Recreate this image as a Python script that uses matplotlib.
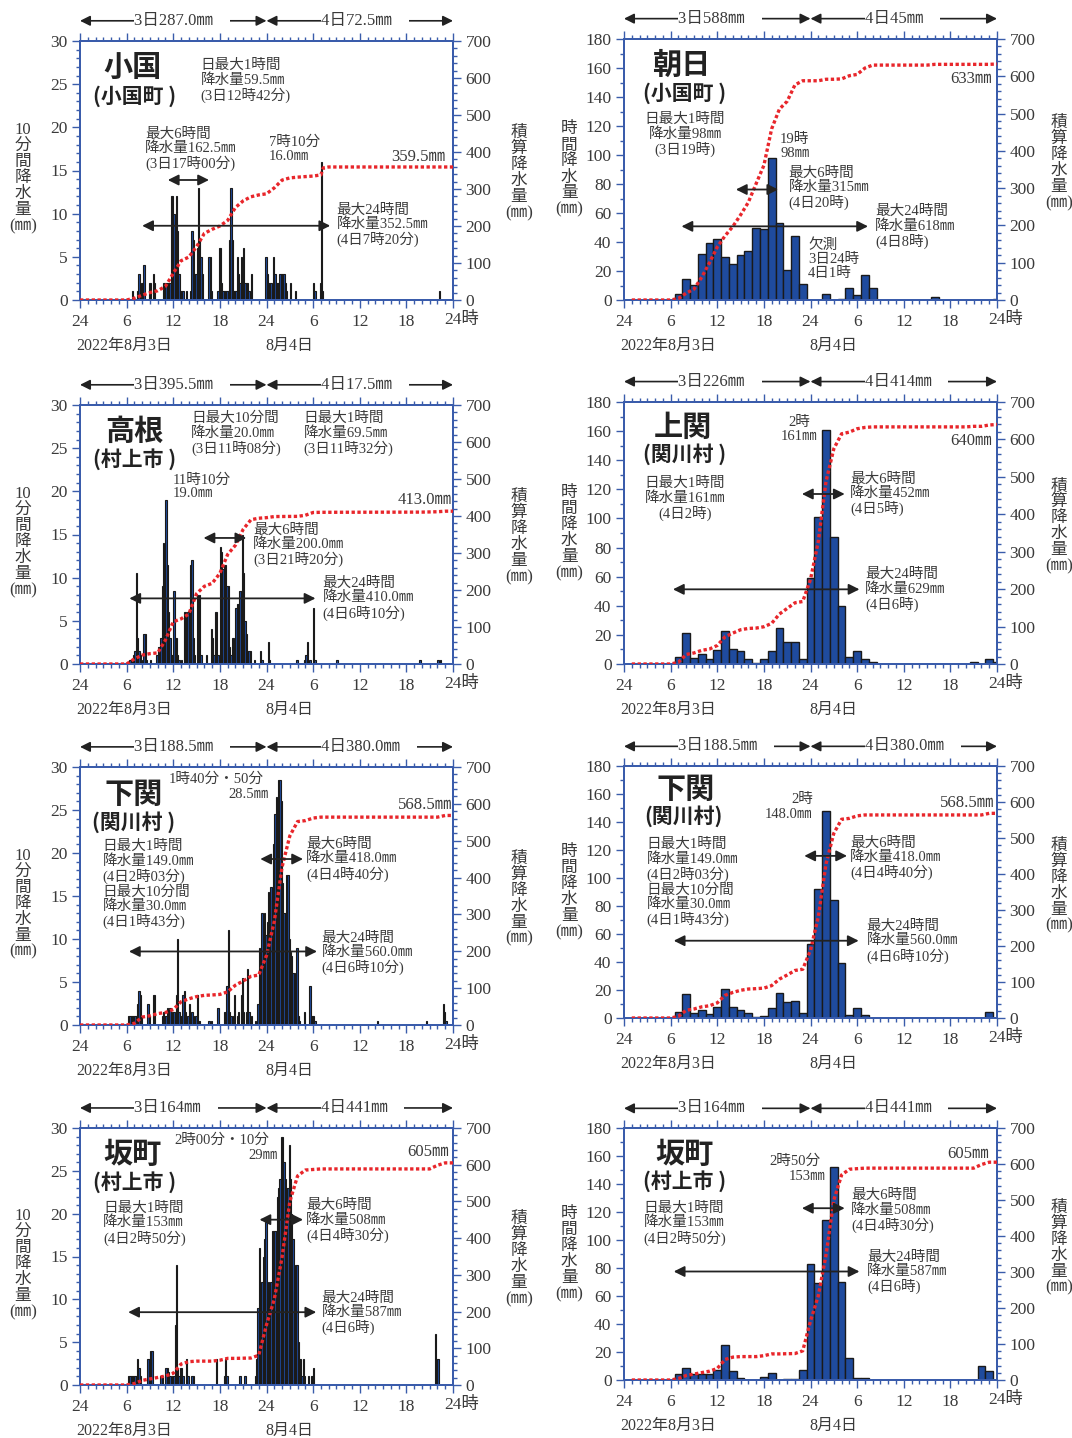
import numpy as np
import matplotlib.pyplot as plt
from matplotlib.ticker import MultipleLocator

plt.rcParams['font.family'] = ['Liberation Serif', 'Noto Sans CJK JP']

# hourly rainfall (mm), index 0 = hour ending 3日1時 ... index 47 = 4日24時
asahi_hourly = [0, 0, 0, 0, 0, 0, 4, 14.5, 10.5, 32, 39, 42,
                30, 25, 31, 34, 50, 49, 98, 53, 21, 44, 11, np.nan,
                np.nan, 4, 0, 1, 8.5, 3.5, 17, 8, 0, 0, 0, 0,
                0, 0, 0, 2, 0, 0, 0, 0, 0, 0, 0, 1]
kamiseki_hourly = [0, 0, 0, 0, 0, 0, 4.5, 21, 4, 7, 3.5, 9.5,
                   23, 10, 9, 3.5, 1, 3.5, 9, 25, 15, 15, 3.5, 59,
                   101, 161, 87, 40, 4.5, 9, 3.5, 1.5, 0, 0, 0, 0,
                   0, 0, 0, 0, 0, 0, 0, 0, 1.5, 0, 3.5, 1.5]
shimoseki_hourly = [0, 0, 0, 0, 0, 0, 4.5, 17, 3.5, 6, 3, 8,
                    21, 8, 6, 3.5, 1, 1.5, 7, 18, 11.5, 12.5, 3.5, 53,
                    92, 148, 84.5, 39, 2.5, 7, 2.5, 0, 0, 0, 0, 0,
                    0, 0, 0, 0, 0, 0, 0, 0, 0, 0, 4.5, 0]
sakamachi_hourly = [0, 0, 0, 0, 0, 0, 4, 8.5, 4, 4, 4, 7.5,
                    25, 6.5, 1.5, 0, 0, 2.5, 5, 0, 0.5, 0.5, 7.5, 83,
                    69.5, 114, 152, 70, 16, 1.5, 1.5, 0, 0, 0, 0, 0,
                    0, 0, 0, 0, 0, 0, 0, 0, 0, 10, 6.5, 0]

# 10-minute rainfall (mm): start hour -> six 10-minute values
oguni_10min = {
    6: [0, 0, 0, 0, 1, 0], 7: [0, 0, 1, 3, 1, 2], 8: [2, 4, 0, 0, 0, 2],
    9: [2, 0, 3, 2, 0, 0], 10: [0, 0, 0, 0, 2, 2], 11: [2, 2, 2, 2, 12, 12],
    12: [10, 9, 12, 8, 3, 1], 13: [1, 1, 0, 0, 1, 0], 14: [0, 1, 8, 7, 3, 3],
    15: [6, 13, 7, 5, 3, 0], 16: [0, 0, 0, 5, 5, 1], 17: [0, 0, 0, 0, 1, 6],
    18: [6, 2, 1, 1, 1, 1], 19: [1, 7, 13, 7, 1, 1], 20: [1, 5, 3, 2, 5, 1],
    21: [6, 2, 2, 2, 1, 0], 22: [3, 0, 0, 0, 0, 0], 23: [0, 0, 0, 0, 0, 5],
    24: [3, 2, 2, 2, 1, 5], 25: [3, 2, 2, 2, 3, 3], 26: [3, 3, 2, 1, 0, 0],
    27: [2, 0, 0, 0, 1, 0], 30: [2, 1, 0, 0, 0, 2], 31: [16, 1, 0, 0, 0, 0],
    46: [0, 1, 0, 0, 0, 0],
}
takane_10min = {
    6: [0, 0, 0.5, 0.5, 0.5, 1], 7: [1.5, 10.5, 3, 1.5, 1, 0.5], 8: [0, 3.5, 3.5, 0.5, 0, 0],
    9: [0.5, 0, 0, 0, 0, 1], 10: [2, 2, 3, 9, 14, 7], 11: [19, 11.5, 6, 3, 1, 1],
    12: [8.5, 3, 3, 1, 0.5, 0], 13: [0.5, 0, 6, 6, 2, 6], 14: [6, 11.5, 12, 3, 1, 0],
    15: [8, 7.5, 8, 1, 0, 0], 16: [0, 1, 0, 0, 0, 4], 17: [3, 1, 6, 6, 1, 0],
    18: [13.5, 13, 11, 11.5, 11.5, 9], 19: [9, 2, 1, 3, 3, 1], 20: [6.5, 7, 7, 8.5, 8.5, 15],
    21: [10.5, 5, 3.5, 1.5, 1.5, 1.5], 22: [0, 0, 0.5, 0, 0, 0], 23: [0, 1.5, 0.5, 0, 0, 0],
    24: [0, 2.5, 0.5, 0, 0, 0], 27: [0, 0, 0, 0, 0, 0.5], 28: [0, 0, 0, 0, 0, 0.5],
    29: [1, 2.5, 0, 0.5, 0, 0], 30: [6.5, 0.5, 0, 0, 0, 0], 33: [0.5, 0, 0, 0, 0, 0],
    43: [0, 0, 0, 0, 0.5, 0], 46: [0.5, 0, 0.5, 0, 0, 0],
}
shimoseki_10min = {
    6: [0, 1, 1, 1, 1, 1], 7: [1, 1, 2.5, 4, 3.5, 1], 8: [0, 0, 0, 0, 2.5, 1],
    9: [0, 0, 3.5, 3.5, 0, 0], 10: [0, 0, 0, 1, 1.5, 1], 11: [1, 2, 1, 2, 1, 1.5],
    12: [1.5, 1, 3.5, 10, 1.5, 1], 13: [1, 3.5, 4, 1.5, 0, 1], 14: [2.5, 0, 1.5, 1, 0, 1],
    15: [3.5, 0.5, 0.5, 0, 0, 0], 16: [0, 0, 0, 0.5, 0, 0.5], 17: [0, 0, 0, 0, 2, 0],
    18: [0, 0, 0, 1.5, 1.5, 4.5], 19: [11, 1.5, 1, 0, 1, 3.5], 20: [0, 1, 1.5, 0, 3.5, 5.5],
    21: [1.5, 0, 1.5, 6.5, 1.5, 0.5], 22: [1, 0, 0, 0.5, 0, 2.5], 23: [9, 6, 13, 8, 13, 10.5],
    24: [12, 15.5, 13, 16, 14.5, 21], 25: [24.5, 26.5, 21, 28.5, 28.5, 26],
    26: [16.5, 13, 13, 17.5, 17.5, 10], 27: [8.5, 8, 6, 6, 1, 9], 28: [1, 0.5, 0, 0, 0, 1.5],
    29: [0, 0, 0, 4.5, 1, 1], 30: [1, 0.5, 0, 0, 0, 0], 38: [0, 0.5, 0, 0, 0, 0],
    44: [0, 0, 0, 0.5, 0, 0], 46: [0, 0, 0, 0, 2.5, 1.5], 47: [0.5, 0, 0, 0, 0, 0],
}
sakamachi_10min = {
    6: [0, 1, 1, 1, 1, 1], 7: [1, 1, 3, 2, 1, 0], 8: [0, 0, 0, 0, 3, 3],
    9: [4, 4, 0, 0, 0, 0], 10: [0, 0, 1, 1, 0, 0], 11: [2, 2, 1.5, 1, 0, 1],
    12: [1, 7, 14, 2, 1, 2], 13: [2, 1, 0, 0, 3, 1], 14: [0, 0, 1, 1, 0, 0],
    17: [0, 0, 0, 3, 0, 0], 18: [0, 0, 0, 1, 3, 1], 20: [0, 0, 0, 1, 0, 0],
    21: [0, 1, 0, 0, 0, 0], 22: [0, 0, 0, 1, 3, 9], 23: [16, 7, 12, 15, 17, 19],
    24: [10, 12, 9, 12, 18, 18], 25: [18, 18, 22, 23, 24, 29], 26: [29, 26, 24, 23, 23, 28],
    27: [24, 20, 17, 11, 14, 14], 28: [5, 3, 3, 1, 3, 1], 29: [0, 0, 1, 0, 1, 1],
    30: [2, 0, 0, 0, 0, 0], 45: [0, 0, 0, 0, 6, 3], 46: [3, 0, 0, 0, 0, 0],
}

# cumulative rainfall (hour, mm)
oguni_cum_hours = [0, 6, 7, 8, 9, 10, 11, 12, 13, 14, 15, 16, 17, 18, 19, 20, 21, 22, 23, 24,
                   25, 26, 27, 28, 30, 31, 31.3, 32, 48]
oguni_cum_mm = [0, 0, 5, 13, 20, 25, 37, 72, 106, 116, 144, 180, 191, 200, 215, 250, 268, 279, 284, 287,
                303, 324, 330, 332, 335, 338, 357, 359.5, 359.5]
takane_cum_hours = [0, 6, 7, 8, 9, 10, 11, 12, 13, 14, 15, 16, 17, 18, 19, 20, 21, 22, 23, 24,
                    25, 28, 29, 30, 31, 44, 46, 47, 48]
takane_cum_mm = [0, 0, 14, 24, 28, 30, 65, 114, 122, 135, 190, 210, 218, 245, 296, 321, 364, 390, 394, 395.5,
                 398.5, 399, 402, 409.5, 410, 410.5, 411.5, 413, 413]

x_tick_labels = ['24', '6', '12', '18', '24', '6', '12', '18', '']

W, H = 1072, 1438
AXBLUE = '#3a5cab'
BARBLUE = '#1f4b9e'
RED = '#e8262b'
TXT = '#3a3a3a'
CJK = 'Noto Sans CJK JP'

fig = plt.figure(figsize=(W / 100, H / 100), dpi=100)


def make_panel(box, ten_min):
    l, t, b, r = box
    ax = fig.add_axes([l / W, 1 - b / H, (r - l) / W, (b - t) / H])
    ax2 = ax.twinx()
    ax.set_xlim(0, 48)
    if ten_min:
        ax.set_ylim(0, 30)
        ax.yaxis.set_major_locator(MultipleLocator(5))
        ax.yaxis.set_minor_locator(MultipleLocator(1))
    else:
        ax.set_ylim(0, 180)
        ax.yaxis.set_major_locator(MultipleLocator(20))
        ax.yaxis.set_minor_locator(MultipleLocator(10))
    ax2.set_ylim(0, 700)
    ax2.yaxis.set_major_locator(MultipleLocator(100))
    ax2.yaxis.set_minor_locator(MultipleLocator(20))
    ax.set_xticks(range(0, 49, 6))
    ax.set_xticklabels(x_tick_labels)
    ax.xaxis.set_minor_locator(MultipleLocator(1))
    for a in (ax, ax2):
        for s in a.spines.values():
            s.set_color(AXBLUE)
            s.set_linewidth(1.4)
        a.tick_params(which='both', direction='out', color=AXBLUE, width=1.0,
                      labelsize=12.5, labelcolor=TXT, pad=3)
        a.tick_params(which='major', length=6)
        a.tick_params(which='minor', length=3)
    ax.tick_params(axis='x', which='both', top=True)
    ax.tick_params(axis='x', which='major', pad=4)
    ax.annotate('24時', xy=(48, 0), xycoords=('data', 'axes fraction'), xytext=(-6.3, -8.3),
                textcoords='offset points', ha='left', va='top', fontsize=12.5, color=TXT)
    ax.annotate('2022年8月3日', xy=(-0.5, 0), xycoords=('data', 'axes fraction'), xytext=(0, -33),
                textcoords='offset points', ha='left', va='center', fontsize=11.5, color=TXT)
    ax.annotate('8月4日', xy=(26.9, 0), xycoords=('data', 'axes fraction'), xytext=(0, -33),
                textcoords='offset points', ha='center', va='center', fontsize=11.5, color=TXT)
    if ten_min:
        ax.text(-0.153, 0.47, '10\n分\n間\n降\n水\n量\n(㎜)', transform=ax.transAxes, ha='center',
                va='center', fontsize=12, color=TXT, linespacing=1.0)
        ax.text(1.177, 0.49, '積\n算\n降\n水\n量\n(㎜)', transform=ax.transAxes, ha='center',
                va='center', fontsize=12, color=TXT, linespacing=1.0)
    else:
        ax.text(-0.147, 0.5, '時\n間\n降\n水\n量\n(㎜)', transform=ax.transAxes, ha='center',
                va='center', fontsize=12, color=TXT, linespacing=1.0)
        ax.text(1.166, 0.525, '積\n算\n降\n水\n量\n(㎜)', transform=ax.transAxes, ha='center',
                va='center', fontsize=12, color=TXT, linespacing=1.0)
    return ax, ax2


def ten_min_bars(ax, data):
    xs, vs = [], []
    for h, vals in data.items():
        for i, v in enumerate(vals):
            if v > 0:
                xs.append(h + (i + 0.5) / 6)
                vs.append(v)
    ax.bar(xs, vs, width=1 / 6, color=BARBLUE, edgecolor='#1a1a1a', linewidth=0.8, zorder=2)


def hourly_bars(ax, data):
    vals = np.array(data, dtype=float)
    hrs = np.arange(1, 49)
    ok = ~np.isnan(vals) & (vals > 0)
    ax.bar(hrs[ok], vals[ok], width=1.0, color=BARBLUE, edgecolor='#1a1a1a', linewidth=1.0, zorder=2)


def cum_line(ax2, x, y):
    ax2.plot(x, y, color=RED, lw=2.4, linestyle=(0, (1.0, 0.75)), dash_capstyle='butt', zorder=3)


def hourly_cum(data, from_zero):
    vals = np.nancumsum(np.array(data, dtype=float))
    hrs = np.arange(1, 49)
    if from_zero:
        return np.r_[0, hrs], np.r_[0, vals]
    return hrs, vals


def note(ax, ax2, x, y, s, ha='left', va='top', size=10.5):
    ax2.text(x, y, s, transform=ax.transData, ha=ha, va=va, fontsize=size, color=TXT,
             linespacing=1.08, zorder=5)


def arrow(ax, ax2, x0, x1, y):
    ax2.annotate('', xy=(x1, y), xytext=(x0, y), xycoords=ax.transData, textcoords=ax.transData,
                 arrowprops=dict(arrowstyle='<|-|>', color='#222222', lw=1.3, mutation_scale=16,
                                 shrinkA=0, shrinkB=0), zorder=5)


def name(ax, ax2, x, y, s, x2, y2, s2):
    ax2.text(x, y, s, transform=ax.transData, ha='center', va='center', fontsize=21,
             fontweight='bold', family=CJK, color='#222222', zorder=5)
    ax2.text(x2, y2, s2, transform=ax.transData, ha='center', va='center', fontsize=15,
             fontweight='bold', family=CJK, color='#222222', zorder=5)


def day_arrows(ax, s3, s4):
    tr = ax.get_xaxis_transform()
    for x0, x1, s, xs in ((0, 24, s3, 7.0), (24, 48, s4, 31.0)):
        ax.annotate('', xy=(x1, 1.078), xytext=(x0, 1.078), xycoords=tr, textcoords=tr,
                    arrowprops=dict(arrowstyle='<|-|>', color='#222222', lw=1.2, mutation_scale=15,
                                    shrinkA=0, shrinkB=0))
        ax.text(xs, 1.078, s + '    ', transform=tr, ha='left', va='center', fontsize=12, color=TXT,
                bbox=dict(fc='white', ec='none', pad=0.3))


# ---- 小国 (10分間) ----
ax, ax2 = make_panel((80, 41, 300, 453), True)
ten_min_bars(ax, oguni_10min)
cum_line(ax2, oguni_cum_hours, oguni_cum_mm)
day_arrows(ax, '3日287.0㎜', '4日72.5㎜')
name(ax, ax2, 6.8, 27.0, '小国', 7.0, 23.6, '(小国町 )')
note(ax, ax2, 15.5, 27.9, '日最大1時間\n降水量59.5㎜\n(3日12時42分)')
note(ax, ax2, 8.4, 20.0, '最大6時間\n降水量162.5㎜\n(3日17時00分)')
note(ax, ax2, 24.3, 19.0, '7時10分\n16.0㎜')
note(ax, ax2, 47.0, 16.6, '359.5㎜', ha='right', va='center', size=12)
arrow(ax, ax2, 11.3, 16.6, 13.9)
arrow(ax, ax2, 8.0, 32.2, 8.6)
note(ax, ax2, 33.0, 11.2, '最大24時間\n降水量352.5㎜\n(4日7時20分)')

# ---- 朝日 (時間) ----
ax, ax2 = make_panel((624, 39, 300, 997), False)
hourly_bars(ax, asahi_hourly)
cum_line(ax2, *hourly_cum(asahi_hourly, False))
day_arrows(ax, '3日588㎜', '4日45㎜')
name(ax, ax2, 7.4, 162, '朝日', 7.85, 142.5, '(小国町 )')
note(ax, ax2, 7.85, 129, '日最大1時間\n降水量98㎜\n(3日19時)', ha='center')
note(ax, ax2, 20.1, 115, '19時\n98㎜')
note(ax, ax2, 21.2, 92, '最大6時間\n降水量315㎜\n(4日20時)')
arrow(ax, ax2, 14.4, 19.85, 76.2)
arrow(ax, ax2, 7.4, 31.4, 50.8)
note(ax, ax2, 32.3, 65.5, '最大24時間\n降水量618㎜\n(4日8時)')
note(ax, ax2, 23.7, 42.5, '欠測\n3日24時\n4日1時')
note(ax, ax2, 47.3, 152.3, '633㎜', ha='right', va='center', size=12)

# ---- 高根 (10分間) ----
ax, ax2 = make_panel((80, 405, 664, 453), True)
ten_min_bars(ax, takane_10min)
cum_line(ax2, takane_cum_hours, takane_cum_mm)
day_arrows(ax, '3日395.5㎜', '4日17.5㎜')
name(ax, ax2, 7.0, 27.0, '高根', 7.0, 23.7, '(村上市 )')
note(ax, ax2, 14.3, 29.2, '日最大10分間\n降水量20.0㎜\n(3日11時08分)')
note(ax, ax2, 28.8, 29.2, '日最大1時間\n降水量69.5㎜\n(3日11時32分)')
note(ax, ax2, 11.9, 22.1, '11時10分\n19.0㎜')
note(ax, ax2, 47.9, 19.0, '413.0㎜', ha='right', va='center', size=12)
arrow(ax, ax2, 15.9, 21.4, 14.6)
note(ax, ax2, 22.3, 16.3, '最大6時間\n降水量200.0㎜\n(3日21時20分)')
arrow(ax, ax2, 6.35, 30.3, 7.6)
note(ax, ax2, 31.2, 10.1, '最大24時間\n降水量410.0㎜\n(4日6時10分)')

# ---- 上関 (時間) ----
ax, ax2 = make_panel((624, 402, 664, 997), False)
hourly_bars(ax, kamiseki_hourly)
cum_line(ax2, *hourly_cum(kamiseki_hourly, False))
day_arrows(ax, '3日226㎜', '4日414㎜')
name(ax, ax2, 7.6, 163, '上関', 7.85, 144, '(関川村 )')
note(ax, ax2, 7.85, 128.5, '日最大1時間\n降水量161㎜\n(4日2時)', ha='center')
note(ax, ax2, 22.5, 170.5, '2時\n161㎜', ha='center')
note(ax, ax2, 47.3, 152.9, '640㎜', ha='right', va='center', size=12)
arrow(ax, ax2, 22.9, 28.4, 116.8)
note(ax, ax2, 29.1, 131.5, '最大6時間\n降水量452㎜\n(4日5時)')
arrow(ax, ax2, 6.3, 30.3, 51.3)
note(ax, ax2, 31.0, 66, '最大24時間\n降水量629㎜\n(4日6時)')

# ---- 下関 (10分間) ----
shimo_block = '日最大1時間\n降水量149.0㎜\n(4日2時03分)\n日最大10分間\n降水量30.0㎜\n(4日1時43分)'
ax, ax2 = make_panel((80, 767, 1025, 453), True)
ten_min_bars(ax, shimoseki_10min)
cum_line(ax2, *hourly_cum(shimoseki_hourly, True))
day_arrows(ax, '3日188.5㎜', '4日380.0㎜')
name(ax, ax2, 6.9, 26.9, '下関', 6.9, 23.6, '(関川村 )')
note(ax, ax2, 17.5, 28.6, '1時40分・50分', ha='center', va='center')
note(ax, ax2, 21.7, 26.8, '28.5㎜', ha='center', va='center')
note(ax, ax2, 47.9, 25.6, '568.5㎜', ha='right', va='center', size=12)
note(ax, ax2, 2.9, 21.5, shimo_block)
arrow(ax, ax2, 23.2, 28.7, 19.3)
note(ax, ax2, 29.1, 21.8, '最大6時間\n降水量418.0㎜\n(4日4時40分)')
arrow(ax, ax2, 6.3, 30.5, 8.55)
note(ax, ax2, 31.1, 10.9, '最大24時間\n降水量560.0㎜\n(4日6時10分)')

# ---- 下関 (時間) ----
ax, ax2 = make_panel((624, 766, 1018, 997), False)
hourly_bars(ax, shimoseki_hourly)
cum_line(ax2, *hourly_cum(shimoseki_hourly, False))
day_arrows(ax, '3日188.5㎜', '4日380.0㎜')
name(ax, ax2, 7.9, 163.5, '下関', 7.7, 144, '(関川村)')
note(ax, ax2, 23.0, 156.2, '2時', ha='center', va='center')
note(ax, ax2, 21.2, 145.5, '148.0㎜', ha='center', va='center')
note(ax, ax2, 47.6, 153.8, '568.5㎜', ha='right', va='center', size=12)
note(ax, ax2, 2.9, 128.5, shimo_block)
arrow(ax, ax2, 23.2, 28.7, 115.8)
note(ax, ax2, 29.1, 129.7, '最大6時間\n降水量418.0㎜\n(4日4時40分)')
arrow(ax, ax2, 6.4, 30.2, 55.2)
note(ax, ax2, 31.2, 70.2, '最大24時間\n降水量560.0㎜\n(4日6時10分)')

# ---- 坂町 (10分間) ----
ax, ax2 = make_panel((80, 1128, 1385, 453), True)
ten_min_bars(ax, sakamachi_10min)
cum_line(ax2, *hourly_cum(sakamachi_hourly, True))
day_arrows(ax, '3日164㎜', '4日441㎜')
name(ax, ax2, 6.8, 27.0, '坂町', 7.0, 23.7, '(村上市 )')
note(ax, ax2, 18.2, 28.6, '2時00分・10分', ha='center', va='center')
note(ax, ax2, 23.55, 26.8, '29㎜', ha='center', va='center')
note(ax, ax2, 47.5, 27.2, '605㎜', ha='right', va='center', size=12)
note(ax, ax2, 3.0, 21.4, '日最大1時間\n降水量153㎜\n(4日2時50分)')
arrow(ax, ax2, 23.1, 28.7, 19.3)
note(ax, ax2, 29.1, 21.7, '最大6時間\n降水量508㎜\n(4日4時30分)')
arrow(ax, ax2, 6.2, 30.4, 8.5)
note(ax, ax2, 31.1, 10.9, '最大24時間\n降水量587㎜\n(4日6時)')

# ---- 坂町 (時間) ----
ax, ax2 = make_panel((624, 1128, 1380, 997), False)
hourly_bars(ax, sakamachi_hourly)
cum_line(ax2, *hourly_cum(sakamachi_hourly, False))
day_arrows(ax, '3日164㎜', '4日441㎜')
name(ax, ax2, 7.8, 161.5, '坂町', 7.8, 142, '(村上市 )')
note(ax, ax2, 22.0, 156.3, '2時50分', ha='center', va='center')
note(ax, ax2, 23.5, 145, '153㎜', ha='center', va='center')
note(ax, ax2, 47.0, 161.5, '605㎜', ha='right', va='center', size=12)
note(ax, ax2, 2.5, 127.5, '日最大1時間\n降水量153㎜\n(4日2時50分)')
arrow(ax, ax2, 22.9, 28.4, 122.7)
note(ax, ax2, 29.2, 136.3, '最大6時間\n降水量508㎜\n(4日4時30分)')
arrow(ax, ax2, 6.4, 30.3, 77.5)
note(ax, ax2, 31.3, 92.7, '最大24時間\n降水量587㎜\n(4日6時)')

fig.savefig('out.png', dpi=100)
